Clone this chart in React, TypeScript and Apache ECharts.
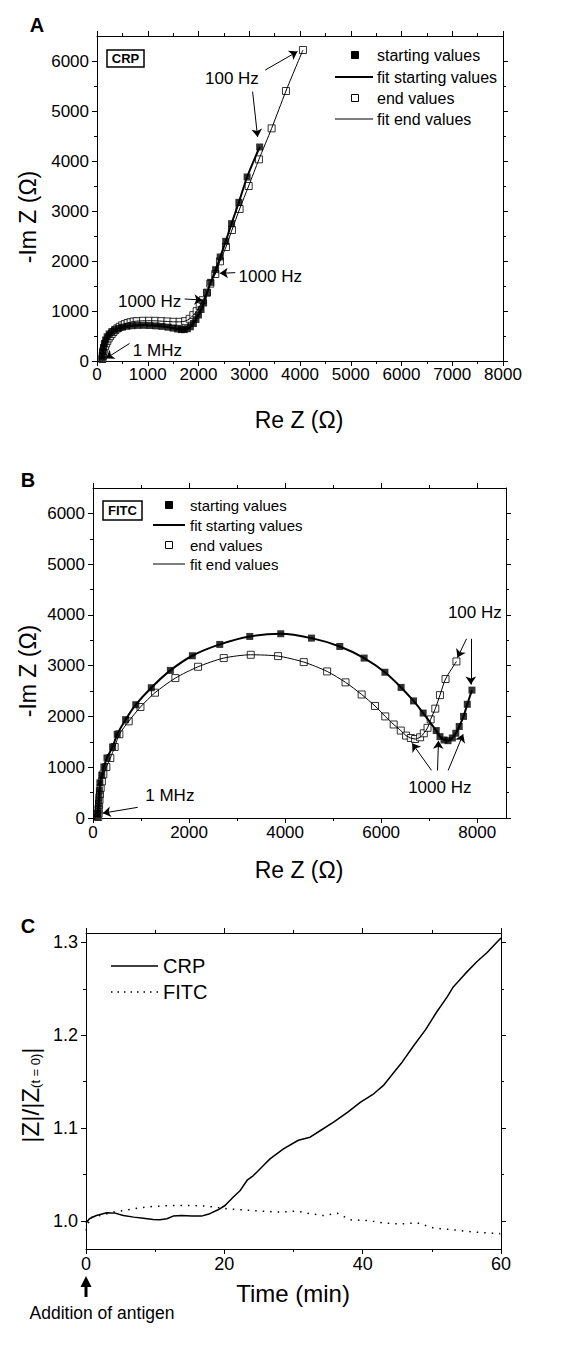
import React, { useEffect, useRef } from "react";
import * as echarts from "echarts";

const FONT = "'Liberation Sans', Arial, Helvetica, sans-serif";

// ---------- Panel A (CRP) : Nyquist plot, [Re Z, -Im Z] in Ohm ----------
const crpStart: number[][] = [
  [100, 40], [106, 110], [115, 190], [128, 270], [146, 350], [170, 420], [200, 485], [240, 540],
  [290, 585], [350, 622], [420, 652], [500, 676], [590, 694], [690, 706], [800, 712], [920, 713],
  [1040, 710], [1160, 703], [1280, 692], [1400, 676], [1500, 658], [1590, 640], [1660, 628],
  [1720, 628], [1780, 645], [1840, 685], [1900, 750], [1950, 830], [2000, 920], [2050, 1030],
  [2100, 1160], [2169, 1367], [2241, 1573], [2337, 1827], [2428, 2080], [2536, 2393],
  [2651, 2747], [2795, 3173], [2958, 3680], [3205, 4280],
];
const crpEnd: number[][] = [
  [108, 40], [114, 95], [120, 153], [130, 205], [145, 252], [162, 302], [181, 352], [203, 402],
  [229, 452], [257, 497], [289, 538], [323, 580], [361, 618], [402, 652], [446, 684], [496, 713],
  [548, 738], [604, 760], [663, 777], [722, 790], [783, 797], [904, 804], [1024, 805], [1145, 804],
  [1265, 797], [1386, 791], [1506, 784], [1627, 784], [1735, 797], [1825, 844], [1898, 917],
  [1964, 997], [2024, 1096], [2084, 1216], [2167, 1367], [2232, 1547], [2331, 1740], [2423, 1993],
  [2541, 2280], [2659, 2620], [2810, 3040], [2988, 3500], [3191, 4033], [3441, 4653], [3723, 5400],
  [4058, 6220],
];
const aXTicks = [0, 1000, 2000, 3000, 4000, 5000, 6000, 7000, 8000];
const aXMinor = [500, 1500, 2500, 3500, 4500, 5500, 6500, 7500];
const aYTicks = [0, 1000, 2000, 3000, 4000, 5000, 6000];
const aYMinor = [500, 1500, 2500, 3500, 4500, 5500];
// annotation labels [x, y, text] and arrows [x1, y1, x2, y2] in data units
const aLabels: (number | string)[][] = [
  [2659, 5653, "100 Hz"], [3414, 1700, "1000 Hz"], [1037, 1187, "1000 Hz"], [1190, 220, "1 MHz"],
];
const aArrows: number[][] = [
  [3316, 5820, 3950, 6190], [3066, 5387, 3165, 4480], [2725, 1767, 2420, 1753],
  [1727, 1240, 2075, 1220], [640, 350, 175, 50],
];

// ---------- Panel B (FITC) ----------
const fitcStart: number[][] = [
  [95, 20], [100, 90], [106, 180], [113, 290], [122, 410], [133, 540], [143, 691], [182, 842],
  [227, 1006], [291, 1183], [408, 1399], [504, 1649], [679, 1937], [891, 2232], [1214, 2566],
  [1611, 2907], [2069, 3196], [2639, 3419], [3264, 3576], [3910, 3629], [4549, 3543], [5139, 3379],
  [5646, 3150], [6079, 2871], [6416, 2572], [6675, 2306], [6875, 2067], [7147, 1722], [7225, 1603],
  [7309, 1537], [7393, 1523], [7483, 1576], [7555, 1669], [7626, 1802], [7716, 2001], [7794, 2240],
  [7891, 2519],
];
const fitcEnd: number[][] = [
  [110, 20], [115, 90], [120, 170], [127, 260], [135, 360], [145, 470], [160, 590], [185, 720],
  [215, 860], [278, 1004], [361, 1181], [451, 1398], [549, 1649], [743, 1904], [988, 2186],
  [1291, 2468], [1715, 2756], [2188, 2979], [2722, 3150], [3285, 3215], [3854, 3189], [4389, 3071],
  [4875, 2887], [5258, 2672], [5594, 2433], [5872, 2207], [6086, 2001], [6261, 1842], [6409, 1722],
  [6519, 1623], [6617, 1576], [6707, 1556], [6811, 1590], [6888, 1669], [6966, 1776], [7031, 1942],
  [7128, 2154], [7225, 2420], [7341, 2738], [7568, 3084],
];
const bXTicks = [0, 2000, 4000, 6000, 8000];
const bXMinor = [1000, 3000, 5000, 7000];
const bYTicks = [0, 1000, 2000, 3000, 4000, 5000, 6000];
const bYMinor = [500, 1500, 2500, 3500, 4500, 5500];
const bLabels: (number | string)[][] = [
  [7951, 4055, "100 Hz"], [7222, 600, "1000 Hz"], [1600, 440, "1 MHz"],
];
const bArrows: number[][] = [
  [7778, 3530, 7590, 3160], [7868, 3530, 7868, 2630], [7049, 938, 6646, 1470],
  [7174, 938, 7194, 1520], [7396, 938, 7708, 1650], [931, 210, 203, 95],
];

// ---------- Panel C : |Z|/|Z(t=0)| vs time ----------
const timeCRP = [0, 0.5, 1.5, 3.0, 4.2, 5.4, 6.9, 8.3, 9.7, 10.7, 11.7, 12.6, 13.8, 15.3, 16.7, 17.9,
  19.1, 20.1, 21.3, 22.3, 23.3, 24.2, 25.4, 26.6, 28.6, 30.7, 32.4, 33.9, 35.8, 37.8, 39.7, 41.6,
  43.0, 44.5, 45.7, 47.4, 49.1, 50.7, 52.2, 53.1, 54.8, 56.5, 58.0, 59.4, 60];
const ratioCRP = [0.998, 1.0025, 1.006, 1.009, 1.0086, 1.006, 1.0043, 1.0032, 1.0018, 1.0014, 1.0025,
  1.0054, 1.006, 1.0054, 1.0054, 1.008, 1.0122, 1.0168, 1.026, 1.033, 1.044, 1.049, 1.058, 1.067,
  1.078, 1.087, 1.0903, 1.0975, 1.1065, 1.117, 1.128, 1.137, 1.146, 1.16, 1.171, 1.189, 1.206,
  1.225, 1.241, 1.252, 1.266, 1.279, 1.289, 1.3, 1.3047];
const timeFITC = [0, 0.6, 2.0, 4.0, 5.9, 7.8, 9.7, 12.6, 15.5, 17.5, 20.4, 22.8, 25.2, 28.1, 30.5,
  32.4, 34.3, 36.3, 38.2, 40.6, 43.0, 45.4, 47.9, 50.3, 52.7, 55.1, 57.5, 59.9];
const ratioFITC = [0.99, 1.004, 1.006, 1.0097, 1.012, 1.0143, 1.0158, 1.0168, 1.0168, 1.016, 1.0133,
  1.012, 1.0108, 1.0097, 1.0108, 1.008, 1.006, 1.0086, 1.0014, 1.0007, 0.998, 0.997, 0.998, 0.9925,
  0.991, 0.989, 0.9875, 0.9865];
const cXTicks = [0, 20, 40, 60];
const cXMinor = [10, 30, 50];
const cYTicks = [1.0, 1.1, 1.2, 1.3];
const cYMinor = [1.05, 1.15, 1.25];

// ---------- layout ----------
const GA = { left: 97, top: 36, width: 406, height: 325 };
const GB = { left: 93, top: 488, width: 413, height: 330 };
const GC = { left: 86, top: 933, width: 415, height: 316 };

const BLACK = "#000";

function axisSet(dim: "x" | "y", grid: number, min: number, max: number, major: number[],
  minor: number[], labelSize: number, margin: number, fmt: (v: number) => string) {
  const base = {
    type: "value", gridIndex: grid, min, max,
    splitLine: { show: false },
    axisLine: { show: true, onZero: false, lineStyle: { color: BLACK, width: 1 } },
  };
  const pos = dim === "x" ? ["bottom", "top"] : ["left", "right"];
  const list: any[] = [];
  list.push({
    ...base, position: pos[0],
    axisTick: { show: true, customValues: major, length: 5, lineStyle: { color: BLACK, width: 1 } },
    axisLabel: { show: true, customValues: major, formatter: fmt, color: BLACK, fontSize: labelSize,
      fontFamily: FONT, margin },
  });
  list.push({
    ...base, position: pos[0], axisLine: { show: false, onZero: false },
    axisTick: { show: true, customValues: minor, length: 3, lineStyle: { color: BLACK, width: 1 } },
    axisLabel: { show: false },
  });
  list.push({
    ...base, position: pos[1],
    axisTick: { show: true, customValues: major, length: 5, lineStyle: { color: BLACK, width: 1 } },
    axisLabel: { show: false },
  });
  list.push({
    ...base, position: pos[1], axisLine: { show: false, onZero: false },
    axisTick: { show: true, customValues: minor, length: 3, lineStyle: { color: BLACK, width: 1 } },
    axisLabel: { show: false },
  });
  return list;
}

function nyquistSeries(axis: number, start: number[][], end: number[][], size: number) {
  return [
    {
      type: "scatter", xAxisIndex: axis, yAxisIndex: axis, data: end, symbol: "rect", symbolSize: size,
      itemStyle: { color: "#fff", borderColor: BLACK, borderWidth: 1 }, z: 2, silent: true,
    },
    {
      type: "scatter", xAxisIndex: axis, yAxisIndex: axis, data: start, symbol: "rect", symbolSize: size,
      itemStyle: { color: BLACK }, z: 3, silent: true,
    },
    {
      type: "line", xAxisIndex: axis, yAxisIndex: axis, data: start, showSymbol: false, smooth: 0.25,
      lineStyle: { color: BLACK, width: 2 }, z: 4, silent: true,
    },
    {
      type: "line", xAxisIndex: axis, yAxisIndex: axis, data: end, showSymbol: false, smooth: 0.25,
      lineStyle: { color: BLACK, width: 1 }, z: 4, silent: true,
    },
  ];
}

function arrowSeries(axis: number, arrows: number[][]) {
  return {
    type: "line", xAxisIndex: axis, yAxisIndex: axis, data: [], silent: true,
    markLine: {
      silent: true, symbol: ["none", "arrow"], symbolSize: 8, animation: false,
      lineStyle: { color: BLACK, width: 1, type: "solid" }, label: { show: false },
      data: arrows.map((a) => [{ coord: [a[0], a[1]] }, { coord: [a[2], a[3]] }]),
    },
  };
}

function txt(x: number, y: number, text: string, size: number, extra: any = {}) {
  return {
    type: "text", x, y, silent: true, z: 100,
    style: { text, fontSize: size, fontFamily: FONT, fill: BLACK, align: "left", verticalAlign: "middle", ...extra },
  };
}

function sq(cx: number, cy: number, s: number, filled: boolean) {
  return {
    type: "rect", silent: true, shape: { x: cx - s / 2, y: cy - s / 2, width: s, height: s },
    style: { fill: filled ? BLACK : "#fff", stroke: BLACK, lineWidth: 1 },
  };
}

function ln(x1: number, y1: number, x2: number, y2: number, w: number, dash?: number[]) {
  return {
    type: "line", silent: true, shape: { x1, y1, x2, y2 },
    style: { stroke: BLACK, lineWidth: w, lineDash: dash },
  };
}

export default function App() {
  const ref = useRef<HTMLDivElement>(null);
  useEffect(() => {
    if (!ref.current) return;
    const chart = echarts.init(ref.current, null, { renderer: "svg" });
    const intFmt = (v: number) => String(Math.round(v));
    const decFmt = (v: number) => v.toFixed(1);

    const xAxis = [
      ...axisSet("x", 0, 0, 8000, aXTicks, aXMinor, 17, 5, intFmt),
      ...axisSet("x", 1, 0, 8600, bXTicks, bXMinor, 17, 6, intFmt),
      ...axisSet("x", 2, 0, 60, cXTicks, cXMinor, 18, 6, intFmt),
    ];
    const yAxis = [
      ...axisSet("y", 0, 0, 6500, aYTicks, aYMinor, 17, 8, intFmt),
      ...axisSet("y", 1, 0, 6500, bYTicks, bYMinor, 17, 8, intFmt),
      ...axisSet("y", 2, 0.97, 1.31, cYTicks, cYMinor, 18, 8, decFmt),
    ];

    chart.setOption({
      animation: false,
      backgroundColor: "#fff",
      textStyle: { fontFamily: FONT },
      grid: [
        { ...GA, containLabel: false },
        { ...GB, containLabel: false },
        { ...GC, containLabel: false },
      ],
      xAxis,
      yAxis,
      series: [
        ...nyquistSeries(0, crpStart, crpEnd, 7),
        arrowSeries(0, aArrows),
        ...nyquistSeries(4, fitcStart, fitcEnd, 7),
        arrowSeries(4, bArrows),
        {
          type: "line", xAxisIndex: 8, yAxisIndex: 8, showSymbol: false, silent: true,
          data: timeCRP.map((t, i) => [t, ratioCRP[i]]),
          lineStyle: { color: BLACK, width: 1.5 },
        },
        {
          type: "line", xAxisIndex: 8, yAxisIndex: 8, showSymbol: false, silent: true,
          data: timeFITC.map((t, i) => [t, ratioFITC[i]]),
          lineStyle: { color: BLACK, width: 1.5, type: [1.5, 6] },
        },
      ],
    });

    // annotation labels placed through the chart's own axis scales
    const annot = (axis: number, labels: (number | string)[][]) =>
      labels.map((l) => {
        const p = chart.convertToPixel({ xAxisIndex: axis, yAxisIndex: axis } as any, [l[0] as number, l[1] as number]) as number[];
        return txt(p[0], p[1], l[2] as string, 17, { align: "center" });
      });

    const legendA = [
      sq(355, 55, 7, true), txt(377, 55, "starting values", 16),
      ln(335, 77, 373, 77, 2), txt(377, 77, "fit starting values", 16),
      sq(355, 98, 7, false), txt(377, 98, "end values", 16),
      ln(335, 119, 373, 119, 1), txt(377, 119, "fit end values", 16),
    ];
    const legendB = [
      sq(169, 505, 7, true), txt(190, 505, "starting values", 15),
      ln(153, 525, 185, 525, 2), txt(190, 525, "fit starting values", 15),
      sq(169, 545, 7, false), txt(190, 545, "end values", 15),
      ln(153, 564, 185, 564, 1), txt(190, 564, "fit end values", 15),
    ];
    const legendC = [
      ln(111, 966, 158, 966, 1.5), txt(163, 966, "CRP", 20),
      ln(111, 992, 158, 992, 1.5, [1.5, 5]), txt(163, 992, "FITC", 20),
    ];
    const boxes = [
      { type: "rect", silent: true, shape: { x: 107, y: 50, width: 37, height: 17 },
        style: { fill: "#fff", stroke: BLACK, lineWidth: 1.5 } },
      txt(125.5, 58.5, "CRP", 13, { align: "center", fontWeight: "bold" }),
      { type: "rect", silent: true, shape: { x: 103, y: 501, width: 39, height: 19 },
        style: { fill: "#fff", stroke: BLACK, lineWidth: 1.5 } },
      txt(122.5, 510.5, "FITC", 13, { align: "center", fontWeight: "bold" }),
    ];
    const titles = [
      txt(37, 25, "A", 20, { align: "center", fontWeight: "bold" }),
      txt(28, 480, "B", 20, { align: "center", fontWeight: "bold" }),
      txt(28, 926, "C", 20, { align: "center", fontWeight: "bold" }),
      txt(299, 420, "Re Z (\u03A9)", 23, { align: "center" }),
      txt(299, 870, "Re Z (\u03A9)", 23, { align: "center" }),
      txt(293, 1293, "Time (min)", 24, { align: "center" }),
      { ...txt(28, 217, "-Im Z (\u03A9)", 23, { align: "center" }), rotation: Math.PI / 2 },
      { ...txt(28, 671, "-Im Z (\u03A9)", 23, { align: "center" }), rotation: Math.PI / 2 },
      {
        type: "text", x: 30, y: 1095, rotation: Math.PI / 2, silent: true,
        style: {
          text: "|Z|/|Z{s|(t = 0)}|", fontSize: 24, fontFamily: FONT, fill: BLACK,
          align: "center", verticalAlign: "middle",
          rich: { s: { fontSize: 13, fontFamily: FONT, fill: BLACK, verticalAlign: "bottom", lineHeight: 14 } },
        },
      },
      // arrow marking the addition of antigen at t = 0
      { type: "polygon", silent: true, shape: { points: [[86, 1276], [80.5, 1287], [91.5, 1287]] },
        style: { fill: BLACK } },
      { type: "rect", silent: true, shape: { x: 84.5, y: 1286, width: 3, height: 11 }, style: { fill: BLACK } },
      txt(102, 1313, "Addition of antigen", 17.5, { align: "center" }),
    ];

    chart.setOption({
      graphic: [...legendA, ...legendB, ...legendC, ...boxes, ...titles,
        ...annot(0, aLabels), ...annot(4, bLabels)],
    });
    return () => chart.dispose();
  }, []);
  return (
    <div
      ref={ref}
      style={{ position: "absolute", left: 0, top: 0, width: 568, height: 1349, background: "#fff" }}
    />
  );
}
